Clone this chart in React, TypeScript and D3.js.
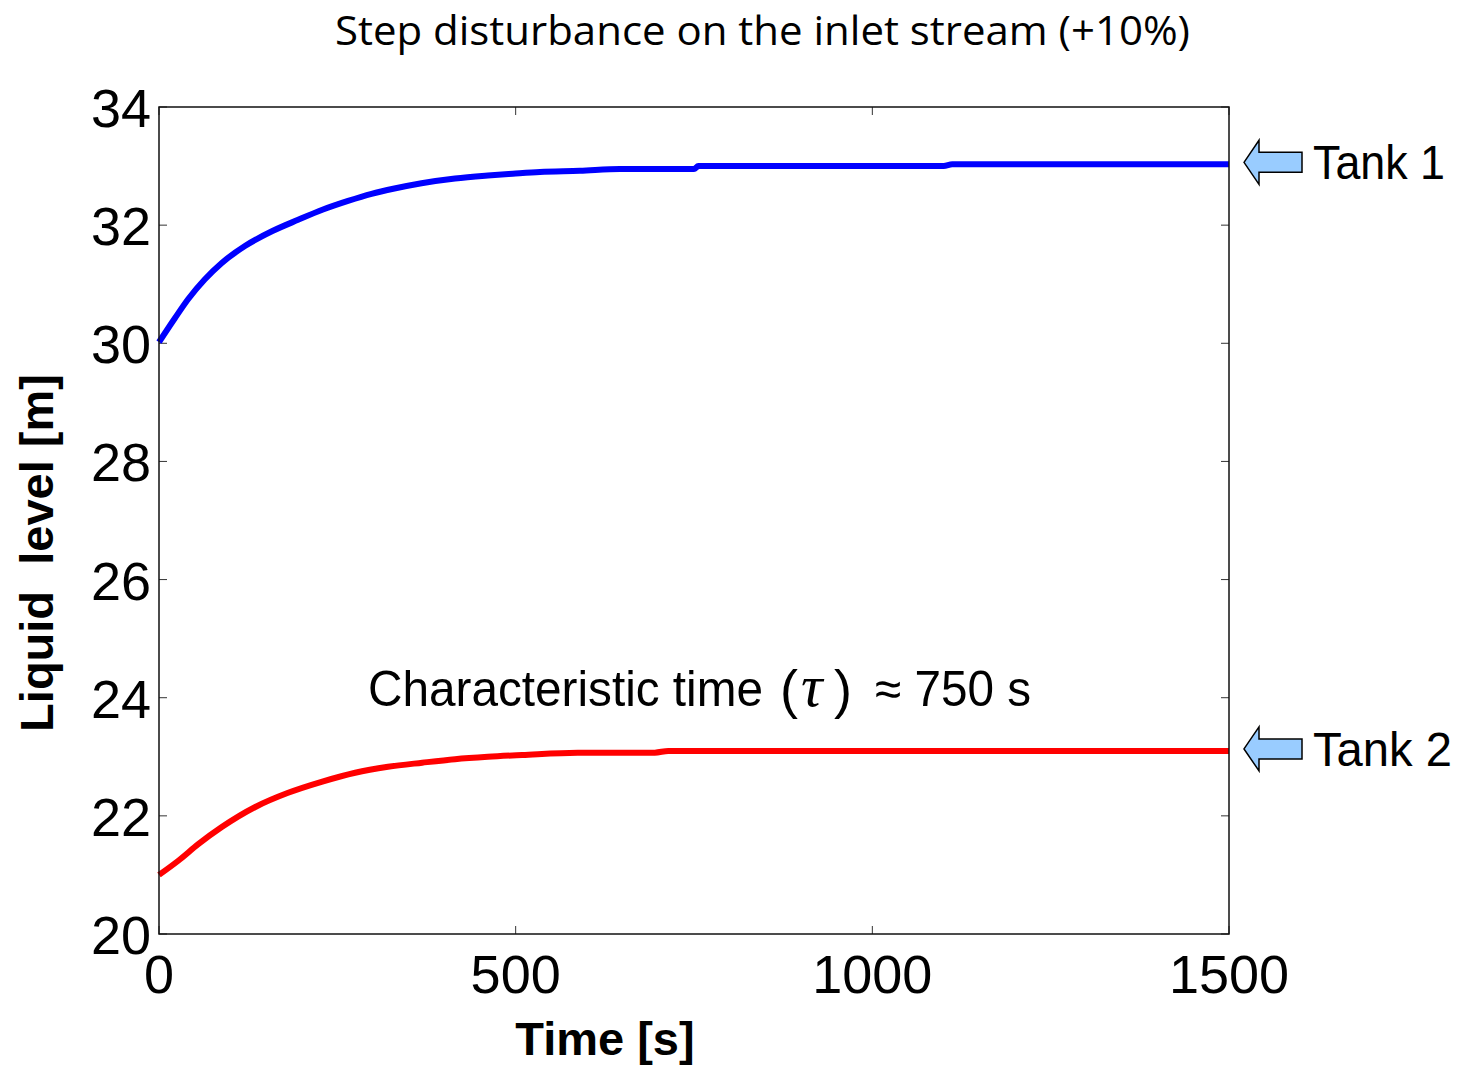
import React from "react";
import * as d3 from "d3";

const titleText = "Step disturbance on the inlet stream (+10%)";
const xLabel = "Time [s]";
const yLabel = "Liquid  level [m]";
const xTicks = [0, 500, 1000, 1500];
const yTicks = [20, 22, 24, 26, 28, 30, 32, 34];

const tank1Time = [0, 22, 41, 64, 88, 121, 159, 195, 229, 265, 298, 330, 368, 415, 461, 496, 534, 590, 646, 750, 756, 1100, 1112, 1500];
const tank1Level = [30.02, 30.42, 30.75, 31.08, 31.36, 31.65, 31.9, 32.09, 32.26, 32.41, 32.53, 32.62, 32.71, 32.79, 32.84, 32.87, 32.9, 32.92, 32.95, 32.95, 33.0, 33.0, 33.03, 33.03];

const tank2Time = [0, 27, 55, 88, 135, 181, 229, 275, 321, 369, 415, 461, 509, 587, 695, 714, 1500];
const tank2Level = [21.0, 21.24, 21.52, 21.81, 22.15, 22.39, 22.58, 22.73, 22.83, 22.9, 22.96, 23.0, 23.03, 23.07, 23.07, 23.1, 23.1];

const seriesNames = ["Tank 1", "Tank 2"];
const seriesColors = ["#0000ff", "#ff0000"];

const W = 1460;
const H = 1065;
const M = { left: 159, right: 1229, top: 107, bottom: 934 };

export default function App() {
  const x = d3.scaleLinear().domain([0, 1500]).range([M.left, M.right]);
  const y = d3.scaleLinear().domain([20, 34]).range([M.bottom, M.top]);

  const line = d3
    .line<[number, number]>()
    .x((d) => x(d[0]))
    .y((d) => y(d[1]))
    .curve(d3.curveMonotoneX);

  const s1: [number, number][] = tank1Time.map((t, i) => [t, tank1Level[i]]);
  const s2: [number, number][] = tank2Time.map((t, i) => [t, tank2Level[i]]);
  const series = [s1, s2];

  const arrow = (cy: number) => {
    const tip = 1244;
    const hb = 1259;
    const end = 1302;
    const hh = 22;
    const sh = 10;
    return `M${tip},${cy} L${hb},${cy - hh} L${hb},${cy - sh} L${end},${cy - sh} L${end},${cy + sh} L${hb},${cy + sh} L${hb},${cy + hh} Z`;
  };

  const sans = "'Liberation Sans', Arial, sans-serif";
  const tickLen = 8;

  return (
    <svg
      width={W}
      height={H}
      viewBox={`0 0 ${W} ${H}`}
      style={{ position: "absolute", left: 0, top: 0, display: "block", background: "#fff" }}
    >
      <rect x={0} y={0} width={W} height={H} fill="#fff" />
      <text
        x={(335 + 1190) / 2}
        y={45}
        textAnchor="middle"
        fontFamily="'Open Sans', sans-serif"
        fontSize={40}
        textLength={855}
        lengthAdjust="spacingAndGlyphs"
        fill="#000"
      >
        {titleText}
      </text>

      {/* ticks */}
      {yTicks.map((t) => (
        <g key={"y" + t}>
          <line x1={M.left} x2={M.left + tickLen} y1={y(t)} y2={y(t)} stroke="#333" strokeWidth={1} />
          <line x1={M.right} x2={M.right - tickLen} y1={y(t)} y2={y(t)} stroke="#333" strokeWidth={1} />
          <text x={151} y={y(t) + 20} textAnchor="end" fontFamily={sans} fontSize={54} fill="#000">
            {t}
          </text>
        </g>
      ))}
      {xTicks.map((t) => (
        <g key={"x" + t}>
          <line x1={x(t)} x2={x(t)} y1={M.bottom} y2={M.bottom - tickLen} stroke="#333" strokeWidth={1} />
          <line x1={x(t)} x2={x(t)} y1={M.top} y2={M.top + tickLen} stroke="#333" strokeWidth={1} />
          <text x={x(t)} y={M.bottom + 59} textAnchor="middle" fontFamily={sans} fontSize={54} fill="#000">
            {t}
          </text>
        </g>
      ))}

      {/* series */}
      {series.map((s, i) => (
        <path key={i} d={line(s) || ""} fill="none" stroke={seriesColors[i]} strokeWidth={6} />
      ))}

      {/* frame */}
      <rect
        x={M.left}
        y={M.top}
        width={M.right - M.left}
        height={M.bottom - M.top}
        fill="none"
        stroke="#111"
        strokeWidth={1.5}
      />

      {/* axis labels */}
      <text x={605} y={1055} textAnchor="middle" fontFamily={sans} fontWeight="bold" fontSize={47} fill="#000">
        {xLabel}
      </text>
      <text
        transform="translate(53,553) rotate(-90)"
        textAnchor="middle"
        fontFamily={sans}
        fontWeight="bold"
        fontSize={47}
        fill="#000"
        style={{ whiteSpace: "pre" }}
      >
        {yLabel}
      </text>

      {/* annotation */}
      <g fontFamily={sans} fill="#000">
        <text x={368} y={706} fontSize={50} textLength={395} lengthAdjust="spacingAndGlyphs">
          Characteristic time
        </text>
        <text x={780} y={708} fontSize={54}>
          (
        </text>
        <text
          x={801}
          y={706}
          fontSize={60}
          fontStyle="italic"
          fontFamily="'Liberation Serif', 'Times New Roman', serif"
        >
          τ
        </text>
        <text x={834} y={708} fontSize={54}>
          )
        </text>
        <text x={875} y={706} fontSize={50} textLength={156} lengthAdjust="spacingAndGlyphs">
          ≈ 750 s
        </text>
      </g>

      {/* tank arrows & labels */}
      {[tank1Level[tank1Level.length - 1], tank2Level[tank2Level.length - 1]].map((v, i) => {
        const cy = y(v) - 2;
        return (
          <g key={"a" + i}>
            <path d={arrow(cy)} fill="#99ccff" stroke="#000" strokeWidth={1.5} strokeLinejoin="miter" />
            <text
              x={1313}
              y={cy + 17}
              fontFamily={sans}
              fontSize={48}
              fill="#000"
              textLength={i === 0 ? 132 : 139}
              lengthAdjust="spacingAndGlyphs"
            >
              {seriesNames[i]}
            </text>
          </g>
        );
      })}
    </svg>
  );
}
